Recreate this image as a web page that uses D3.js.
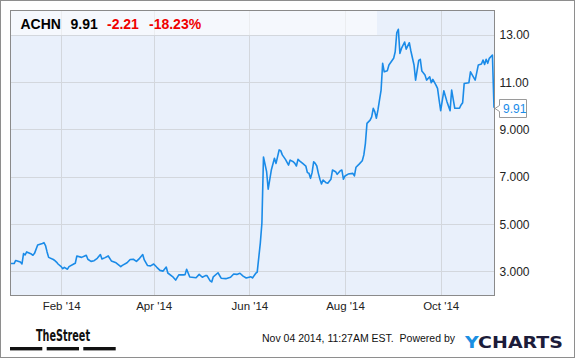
<!DOCTYPE html>
<html><head><meta charset="utf-8">
<script src="https://cdn.jsdelivr.net/npm/d3@7"></script>
<style>
html,body{margin:0;padding:0;background:#fff;}
svg{display:block;font-family:"Liberation Sans",Arial,sans-serif;}
</style></head>
<body><svg id="c" width="575" height="358"></svg>
<script>
const ticker = "ACHN", lastPrice = "9.91", change = "-2.21", changePct = "-18.23%";
const dates = ["2013-12-31","2014-01-02","2014-01-03","2014-01-06","2014-01-07","2014-01-08","2014-01-09","2014-01-10","2014-01-13","2014-01-14","2014-01-15","2014-01-17","2014-01-20","2014-01-21","2014-01-22","2014-01-23","2014-01-24","2014-01-27","2014-01-28","2014-01-29","2014-01-30",
"2014-02-01","2014-02-02","2014-02-03","2014-02-05","2014-02-06","2014-02-09","2014-02-10","2014-02-11","2014-02-14","2014-02-16","2014-02-17","2014-02-18","2014-02-20","2014-02-22","2014-02-24","2014-02-26","2014-02-27",
"2014-03-01","2014-03-03","2014-03-05","2014-03-08","2014-03-11","2014-03-12","2014-03-15","2014-03-17","2014-03-19","2014-03-21","2014-03-23","2014-03-25","2014-03-26","2014-03-28","2014-03-30",
"2014-04-01","2014-04-03","2014-04-05","2014-04-07","2014-04-09","2014-04-10","2014-04-13","2014-04-15","2014-04-17","2014-04-20","2014-04-21","2014-04-22","2014-04-24","2014-04-28","2014-04-30",
"2014-05-02","2014-05-04","2014-05-05","2014-05-07","2014-05-08","2014-05-09","2014-05-12","2014-05-14","2014-05-17","2014-05-20","2014-05-22","2014-05-24","2014-05-26","2014-05-28","2014-05-30",
"2014-06-02","2014-06-03","2014-06-05","2014-06-06","2014-06-08","2014-06-09","2014-06-10","2014-06-12","2014-06-13","2014-06-15","2014-06-17","2014-06-18","2014-06-20","2014-06-21","2014-06-22","2014-06-24","2014-06-26","2014-06-27","2014-06-29","2014-06-30",
"2014-07-01","2014-07-02","2014-07-03","2014-07-05","2014-07-07","2014-07-08","2014-07-09","2014-07-10","2014-07-11","2014-07-12","2014-07-13","2014-07-14","2014-07-15","2014-07-16","2014-07-17","2014-07-18","2014-07-20","2014-07-21","2014-07-23","2014-07-24","2014-07-26","2014-07-27","2014-07-29","2014-07-30","2014-07-31",
"2014-08-01","2014-08-03","2014-08-06","2014-08-07","2014-08-08","2014-08-10","2014-08-12","2014-08-13","2014-08-14","2014-08-15","2014-08-17","2014-08-18","2014-08-19","2014-08-20","2014-08-21","2014-08-22","2014-08-23","2014-08-24","2014-08-25","2014-08-26","2014-08-28","2014-08-29",
"2014-09-01","2014-09-02","2014-09-03","2014-09-04","2014-09-05","2014-09-06","2014-09-08","2014-09-09","2014-09-11","2014-09-12","2014-09-14","2014-09-15","2014-09-17","2014-09-18","2014-09-19","2014-09-21","2014-09-22","2014-09-24","2014-09-25","2014-09-26","2014-09-28","2014-09-29","2014-09-30",
"2014-10-01","2014-10-03","2014-10-05","2014-10-07","2014-10-08","2014-10-10","2014-10-13","2014-10-14","2014-10-15","2014-10-16","2014-10-19","2014-10-20","2014-10-23","2014-10-25","2014-10-27","2014-10-28","2014-10-29","2014-10-30","2014-10-31",
"2014-11-01","2014-11-03","2014-11-04"];
const prices = [3.33,3.33,3.46,3.39,3.31,3.75,3.69,3.82,3.73,3.68,3.76,4.11,4.18,4.21,4.09,3.82,3.59,3.50,3.45,3.39,3.31,
3.20,3.11,3.17,3.09,3.20,3.31,3.34,3.65,3.59,3.65,3.68,3.51,3.42,3.45,3.55,3.71,3.52,
3.58,3.65,3.44,3.36,3.20,3.25,3.36,3.50,3.51,3.42,3.55,3.71,3.48,3.25,3.23,
3.31,3.17,3.04,3.01,3.18,2.93,2.78,2.63,2.85,2.85,2.86,3.09,2.76,2.73,2.87,
2.75,2.82,2.82,2.60,2.55,2.77,2.94,2.71,2.69,2.75,2.89,2.87,2.92,2.80,2.72,
2.77,2.72,2.91,2.97,4.20,5.04,7.83,7.21,6.47,7.28,7.78,7.56,8.13,8.10,7.92,7.73,7.49,7.70,7.63,7.56,
7.45,7.73,7.67,7.56,7.45,7.17,7.14,6.93,7.17,7.63,7.56,7.45,7.14,6.89,6.69,6.86,6.74,6.72,6.89,7.28,7.21,7.10,7.25,7.28,6.89,
7.03,7.11,7.14,7.03,7.40,7.53,7.67,7.92,8.41,9.25,9.39,9.53,9.89,9.74,9.47,9.82,10.24,10.66,11.79,11.43,11.48,11.72,
12.00,12.28,13.08,13.23,12.21,12.42,12.69,12.39,12.66,12.31,11.72,11.08,11.91,11.96,11.46,11.30,11.08,11.22,10.97,11.11,10.87,10.73,10.24,
9.79,10.63,10.17,9.79,10.66,9.89,9.89,10.03,10.12,10.94,10.97,11.43,11.08,11.72,11.76,11.93,11.74,11.96,11.79,
12.00,12.14,9.91];
const xTickDates = ["2014-02-01","2014-04-01","2014-06-01","2014-08-01","2014-10-01"];
const yTickValues = [3,5,7,9,11,13];
const yTickLabels = ["3.000","5.000","7.000","9.000","11.00","13.00"];
const domainStart = "2013-12-31", domainEnd = "2014-11-04";
const yDomain = [2,14];
const footerDate = "Nov 04 2014, 11:27AM EST.  Powered by";

const parse = d3.timeParse("%Y-%m-%d");
const data = dates.map((d,i)=>({date:parse(d), v:prices[i]}));

const svg = d3.select("#c");
const L=10.5, T=10.5, R=494.5, B=295.5;

// outer frame
svg.append("rect").attr("x",0.5).attr("y",0.5).attr("width",574).attr("height",357)
  .attr("fill","#fff").attr("stroke","#8e8e8e");

const x = d3.scaleTime().domain([parse(domainStart), parse(domainEnd)]).range([11, 494]);
const y = d3.scaleLinear().domain(yDomain).range([295, 11]);

// plot bg
svg.append("rect").attr("x",L).attr("y",T).attr("width",R-L).attr("height",B-T).attr("fill","#e9f0fb");

// grid
const g = svg.append("g");
g.selectAll("line.h").data(yTickValues).join("line")
  .attr("x1",L).attr("x2",R).attr("y1",d=>Math.round(y(d))+0.5).attr("y2",d=>Math.round(y(d))+0.5)
  .attr("stroke","#d3d7dd").attr("stroke-width",1);
g.selectAll("line.v").data(xTickDates).join("line")
  .attr("y1",T).attr("y2",B).attr("x1",d=>Math.round(x(parse(d)))+0.5).attr("x2",d=>Math.round(x(parse(d)))+0.5)
  .attr("stroke","#d3d7dd").attr("stroke-width",1);

// header band
svg.append("rect").attr("x",11).attr("y",11).attr("width",366).attr("height",Math.round(y(13))-11)
  .attr("fill","#ffffff").attr("opacity",0.55);

// line
svg.append("path").datum(data)
  .attr("d", d3.line().x(d=>x(d.date)).y(d=>y(d.v)))
  .attr("fill","none").attr("stroke","#1a8be8").attr("stroke-width",1.6).attr("stroke-linejoin","round");

// plot border
svg.append("rect").attr("x",L).attr("y",T).attr("width",R-L).attr("height",B-T)
  .attr("fill","none").attr("stroke","#8a8a8a");

// x axis
const xAxis = d3.axisBottom(x).tickValues(xTickDates.map(parse)).tickFormat(d3.timeFormat("%b '%y")).tickSize(0).tickPadding(0);
const xa = svg.append("g").attr("transform",`translate(0,${B})`).call(xAxis);
xa.select(".domain").remove();
xa.selectAll("text").attr("y",14.5).attr("dy",0).attr("font-size","11.5px")
  .attr("font-family","'Liberation Sans',Arial,sans-serif").attr("fill","#222");

// y axis (right)
const yAxis = d3.axisRight(y).tickValues(yTickValues).tickFormat((d,i)=>yTickLabels[i]).tickSize(0).tickPadding(0);
const ya = svg.append("g").attr("transform",`translate(${R+5},0)`).call(yAxis);
ya.select(".domain").remove();
ya.selectAll("text").attr("x",0).attr("dy","0.36em").attr("font-size","12px")
  .attr("font-family","'Liberation Sans',Arial,sans-serif").attr("fill","#222");

// last value label
const last = data[data.length-1];
const ly = Math.round(y(last.v));
const bx=499.5, bw=27, bh=18, by=ly-8.5;
svg.append("path")
  .attr("d",`M${bx},${by} H${bx+bw} V${by+bh} H${bx} V${ly+3.5} L${bx-4.5},${ly+0.5} L${bx},${ly-2.5} Z`)
  .attr("fill","#fff").attr("stroke","#9a9a9a");
svg.append("text").attr("x",bx+3.5).attr("y",ly+4.5).attr("font-size","12px").attr("fill","#1a8be8")
  .text(last.v.toFixed(2));

// header text
const hdr = svg.append("g").attr("font-size","14px").attr("font-weight","bold");
hdr.append("text").attr("x",20.5).attr("y",28.5).attr("fill","#000").text(ticker);
hdr.append("text").attr("x",70.5).attr("y",28.5).attr("fill","#000").text(lastPrice);
hdr.append("text").attr("x",107).attr("y",28.5).attr("fill","#f00000").text(change);
hdr.append("text").attr("x",149).attr("y",28.5).attr("fill","#f00000").text(changePct);

// footer: TheStreet logo
svg.append("text").attr("x",36).attr("y",341).attr("font-size","16px").attr("font-weight","bold")
  .attr("font-family","'Liberation Sans Narrow','DejaVu Sans Condensed',Arial,sans-serif")
  .attr("textLength",54).attr("lengthAdjust","spacingAndGlyphs").attr("fill","#111").text("TheStreet");
[[10,32.3],[46.7,32.3],[83.3,32.4]].forEach(b=>{
  svg.append("rect").attr("x",b[0]).attr("y",347).attr("width",b[1]).attr("height",3.4).attr("fill","#111");
});

// footer text
svg.append("text").attr("x",262).attr("y",342).attr("font-size","10.5px").attr("fill","#111")
  .attr("xml:space","preserve").text(footerDate);
const yc = svg.append("text").attr("x",465).attr("y",347.5).attr("font-size","15px").attr("font-weight","bold")
  .attr("font-family","'DejaVu Sans',Arial,sans-serif").attr("textLength",98).attr("lengthAdjust","spacingAndGlyphs");
yc.append("tspan").attr("fill","#1b8fe2").text("Y");
yc.append("tspan").attr("fill","#1c1c3a").text("CHARTS");
</script></body></html>
